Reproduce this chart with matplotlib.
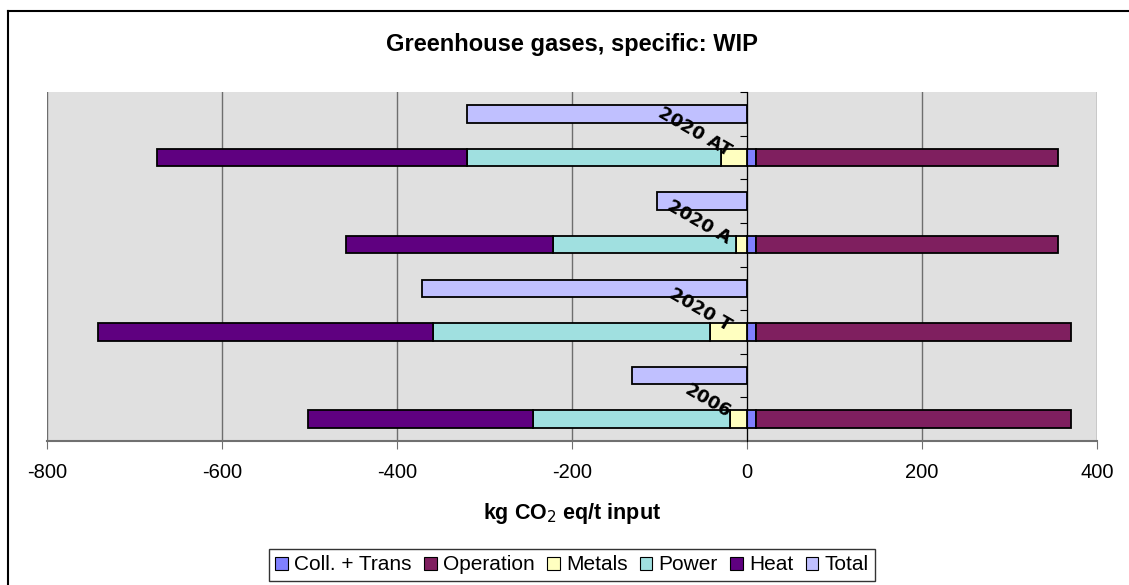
import matplotlib
matplotlib.use("Agg")
import numpy as np
import matplotlib.pyplot as plt
from matplotlib.patches import Patch
from matplotlib.lines import Line2D

plt.rcParams["axes.unicode_minus"] = False

# values, bottom group first (kg CO2 eq / t input)
scenarios = ["2006", "2020 T", "2020 A", "2020 AT"]
coll_trans = [10, 10, 10, 10]
operation = [360, 360, 345, 345]
metals = [-19, -42, -13, -30]
power = [-226, -317, -209, -290]
heat = [-257, -383, -236, -354]
total = [-132, -372, -103, -320]

series_names = ["Coll. + Trans", "Operation", "Metals", "Power", "Heat", "Total"]
colors = ["#8080FF", "#7F1F5F", "#FFFFC0", "#A0E0E0", "#5F0080", "#C0C0FF"]

coll_trans = np.array(coll_trans)
operation = np.array(operation)
metals = np.array(metals)
power = np.array(power)
heat = np.array(heat)
total = np.array(total)

W, H = 1129, 585
fig = plt.figure(figsize=(W / 100, H / 100), dpi=100)
ax = fig.add_axes([47 / W, 1 - 441 / H, 1050 / W, 349 / H])
ax.set_facecolor("#E0E0E0")

n = len(scenarios)
y_stack = np.arange(n) * 2 + 0.5
y_total = np.arange(n) * 2 + 1.5
h = 0.4
kw = dict(height=h, edgecolor="black", linewidth=1.3, zorder=3)

ax.barh(y_stack, coll_trans, left=0, color=colors[0], **kw)
ax.barh(y_stack, operation, left=coll_trans, color=colors[1], **kw)
ax.barh(y_stack, metals, left=0, color=colors[2], **kw)
ax.barh(y_stack, power, left=metals, color=colors[3], **kw)
ax.barh(y_stack, heat, left=metals + power, color=colors[4], **kw)
ax.barh(y_total, total, left=0, color=colors[5], **kw)

ax.set_xlim(-800, 400)
ax.set_ylim(0, 2 * n)
ax.set_xticks(np.arange(-800, 401, 200))
ax.set_yticks(np.arange(0, 2 * n + 1))
ax.set_yticklabels([])
ax.grid(axis="x", color="#6E6E6E", linewidth=1.0, zorder=1)
ax.set_axisbelow(True)

for s in ["top", "right"]:
    ax.spines[s].set_visible(False)
ax.spines["left"].set_position(("data", 0))
ax.spines["left"].set_color("black")
ax.spines["left"].set_zorder(4)
ax.spines["bottom"].set_color("#707070")
ax.spines["bottom"].set_linewidth(1.5)
ax.tick_params(axis="y", direction="out", length=5, color="black")
ax.tick_params(axis="x", direction="out", length=6, color="#707070",
               labelsize=14.5, pad=10)
for lbl in ax.get_xticklabels():
    lbl.set_family("Liberation Sans")

# category labels sit just below the tick between each group's two bars
for i, name in enumerate(scenarios):
    ax.text(-20, y_stack[i] + 0.12, name, rotation=-30, rotation_mode="anchor",
            ha="right", va="center", fontsize=13, fontweight="bold",
            family="DejaVu Sans", zorder=5)

fig.text(572 / W, 1 - 513 / H, "kg CO$_2$ eq/t input", ha="center", va="center",
         fontsize=15.5, fontweight="bold", family="Liberation Sans")
fig.text(572 / W, 1 - 45 / H, "Greenhouse gases, specific: WIP",
         ha="center", va="center", fontsize=17, fontweight="bold",
         family="Liberation Sans")

handles = [Patch(facecolor=c, edgecolor="black", linewidth=0.8) for c in colors]
leg = fig.legend(handles, series_names, loc="center", ncol=6,
                 bbox_to_anchor=(572 / W, 1 - 565 / H),
                 prop={"family": "Liberation Sans", "size": 15},
                 handlelength=0.6, handleheight=0.6, handletextpad=0.3,
                 columnspacing=0.6, borderpad=0.3, frameon=True, fancybox=False)
leg.get_frame().set_edgecolor("black")
leg.get_frame().set_linewidth(1.0)

# chart-area border (left and top edges visible in the original)
fig.add_artist(Line2D([8 / W, 8 / W], [0, 1 - 11 / H], color="black",
                      lw=1.5, transform=fig.transFigure))
fig.add_artist(Line2D([8 / W, 1], [1 - 11 / H, 1 - 11 / H], color="black",
                      lw=1.5, transform=fig.transFigure))

plt.savefig("out.png", dpi=100)
